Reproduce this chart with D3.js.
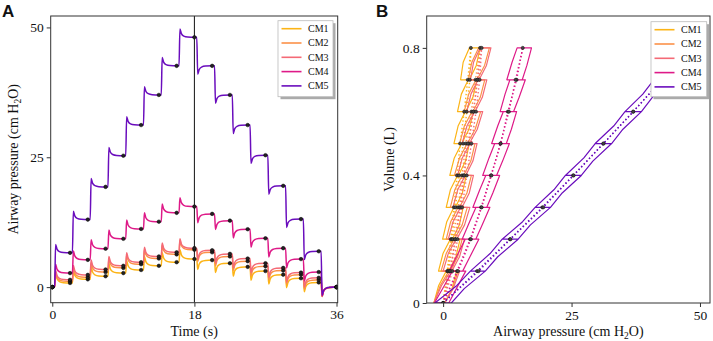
<!DOCTYPE html>
<html>
<head>
<meta charset="utf-8">
<script src="https://cdn.jsdelivr.net/npm/d3@7"></script>
<style>
  body { margin: 0; background: #fff; }
  text { font-family: "Liberation Serif", "DejaVu Serif", serif; fill: #111; }
</style>
</head>
<body>
<svg width="713" height="341"></svg>
<script>
// names and colours of the five compliance models
const series = ["CM1", "CM2", "CM3", "CM4", "CM5"];
const colors = ["#fcb416", "#fb9148", "#f46a76", "#de1a88", "#6a0dbd"];

// volume levels (L) and the time grid of the steps (s)
const volumes = [0, 0.1, 0.2, 0.3, 0.4, 0.5, 0.6, 0.7, 0.8];
const stepTimes = [0, 2.25, 4.5, 6.75, 9, 11.25, 13.5, 15.75, 18,
                   20.25, 22.5, 24.75, 27, 29.25, 31.5, 33.75, 36];

// plateau pressure (cm H2O) at each volume, inflation limb
const cm1Up = [0, 0.8, 1.5, 2.1, 2.7, 3.3, 4.1, 4.8, 5.4];
const cm2Up = [0, 1.1, 1.9, 2.9, 3.7, 4.4, 5.5, 6.3, 7.2];
const cm3Up = [0, 1.4, 2.35, 3.4, 4.1, 4.8, 5.9, 6.7, 7.5];
const cm4Up = [0, 2.7, 5.25, 7.4, 9.3, 11.2, 12.6, 14.3, 15.5];
const cm5Up = [0, 6.6, 13.0, 19.3, 25.3, 31.2, 37.0, 42.6, 48.1];

// plateau pressure at each volume, deflation limb
const cm1Down = [0, 0.9, 1.7, 2.4, 3.1, 3.9, 4.6, 5.2, 5.4];
const cm2Down = [0, 1.4, 2.4, 3.2, 4.0, 5.0, 5.9, 6.7, 7.2];
const cm3Down = [0, 1.8, 2.8, 3.7, 4.6, 5.5, 6.4, 7.1, 7.5];
const cm4Down = [0, 2.9, 5.4, 7.5, 9.4, 11.15, 12.8, 14.1, 15.5];
const cm5Down = [0, 6.9, 13.1, 19.5, 25.4, 31.2, 37.0, 42.6, 48.1];

// flow-related pressure swing: at the start and at the end of each step
const swingStart = [0.3, 0.3, 0.3, 1.1, 1.6];
const swingEnd = [1.8, 1.8, 1.8, 1.7, 1.6];

// tick labels
const ticksTime = [0, 18, 36];
const ticksPaw = [0, 25, 50];
const ticksVol = [0, 0.4, 0.8];

const upP = [cm1Up, cm2Up, cm3Up, cm4Up, cm5Up];
const downP = [cm1Down, cm2Down, cm3Down, cm4Down, cm5Down];

// shape of the transient after each step: [time after step, fraction of swing]
const hold = 0.3;
const transient = [[0.42, 1], [0.6, 0.45], [0.9, 0.15], [1.4, 0.03]];

const svg = d3.select("svg");

function pressureTrace(up, down, r) {
  const pts = [];
  for (let k = 0; k < 8; k++) {
    const t0 = stepTimes[k];
    pts.push([t0, up[k]], [t0 + hold, up[k]]);
    transient.forEach(([dt, f]) => pts.push([t0 + dt, up[k + 1] + f * r]));
  }
  for (let j = 0; j < 8; j++) {
    const t0 = stepTimes[8 + j];
    const from = down[8 - j], to = down[7 - j];
    pts.push([t0, from], [t0 + hold, from]);
    transient.forEach(([dt, f]) => pts.push([t0 + dt, to - f * r]));
  }
  pts.push([stepTimes[16], down[0]]);
  return pts;
}

// pressure-volume path: the swing grows from s0 to s1 during each step
function loopTrace(up, down, s0, s1) {
  const pts = [[up[0], volumes[0]]];
  for (let k = 0; k < 8; k++) {
    const vm = volumes[k] + 0.45 * (volumes[k + 1] - volumes[k]);
    pts.push([up[k] + s0, volumes[k]]);
    pts.push([up[k] + 0.38 * (up[k + 1] - up[k]) + s0 + 0.75 * (s1 - s0), vm]);
    pts.push([up[k + 1] + s1, volumes[k + 1]]);
    pts.push([up[k + 1], volumes[k + 1]]);
  }
  for (let j = 8; j > 0; j--) {
    const vm = volumes[j] - 0.45 * (volumes[j] - volumes[j - 1]);
    pts.push([down[j] - s0, volumes[j]]);
    pts.push([down[j] - 0.38 * (down[j] - down[j - 1]) - s0 - 0.75 * (s1 - s0), vm]);
    pts.push([down[j - 1] - s1, volumes[j - 1]]);
    pts.push([down[j - 1], volumes[j - 1]]);
  }
  return pts;
}

function frame(g, x, y, box, xTicks, yTicks, xLabel, yLabel, yFmt) {
  g.append("g")
    .attr("transform", `translate(0,${box.bottom})`)
    .call(d3.axisBottom(x).tickValues(xTicks).tickSize(4).tickPadding(3))
    .call(a => a.select(".domain").remove())
    .call(a => a.selectAll("text").attr("font-size", 13.5).attr("fill", "#111")
      .style("font-family", "Liberation Serif, serif"));
  g.append("g")
    .attr("transform", `translate(${box.left},0)`)
    .call(d3.axisLeft(y).tickValues(yTicks).tickSize(4).tickPadding(3).tickFormat(yFmt))
    .call(a => a.select(".domain").remove())
    .call(a => a.selectAll("text").attr("font-size", 13.5).attr("fill", "#111")
      .style("font-family", "Liberation Serif, serif"));
  g.selectAll(".tick line").attr("stroke", "#333");
  g.append("text")
    .attr("x", (box.left + box.right) / 2).attr("y", 336)
    .attr("text-anchor", "middle").attr("font-size", 14)
    .html(xLabel);
  g.append("text")
    .attr("transform", `translate(${box.left - 33},${(box.top + box.bottom) / 2}) rotate(-90)`)
    .attr("text-anchor", "middle").attr("font-size", 14)
    .html(yLabel);
}

function border(g, box) {
  g.append("rect")
    .attr("x", box.left).attr("y", box.top)
    .attr("width", box.right - box.left).attr("height", box.bottom - box.top)
    .attr("fill", "none").attr("stroke", "#333").attr("stroke-width", 1);
}

function legend(g, x0, y0, w, h) {
  const lg = g.append("g").attr("transform", `translate(${x0},${y0})`);
  lg.append("rect").attr("x", 2.5).attr("y", 2.5).attr("width", w).attr("height", h)
    .attr("fill", "#aaa");
  lg.append("rect").attr("width", w).attr("height", h)
    .attr("fill", "#fff").attr("stroke", "#bbb").attr("stroke-width", 0.8);
  series.forEach((s, i) => {
    const yy = 8 + i * 14.3;
    lg.append("line").attr("x1", 3.5).attr("x2", 23.5).attr("y1", yy).attr("y2", yy)
      .attr("stroke", colors[i]).attr("stroke-width", 1.6);
    lg.append("text").attr("x", 30).attr("y", yy + 3.5).attr("font-size", 10).text(s);
  });
}

const subLabel = "(cm H<tspan font-size='9.5' dy='3'>2</tspan><tspan dy='-3'>O)</tspan>";

// ---------- panel A: pressure vs time ----------
const boxA = { left: 50.7, right: 337.7, top: 16, bottom: 302.7 };
const xA = d3.scaleLinear().domain([-0.2, 36.15]).range([boxA.left, boxA.right]);
const yA = d3.scaleLinear().domain([-3, 52.2]).range([boxA.bottom, boxA.top]);
const gA = svg.append("g");
gA.append("clipPath").attr("id", "clipA").append("rect")
  .attr("x", boxA.left).attr("y", boxA.top)
  .attr("width", boxA.right - boxA.left).attr("height", boxA.bottom - boxA.top);

const lineA = d3.line().x(d => xA(d[0])).y(d => yA(d[1])).curve(d3.curveMonotoneX);
const plotA = gA.append("g").attr("clip-path", "url(#clipA)");
series.forEach((s, i) => {
  plotA.append("path")
    .attr("d", lineA(pressureTrace(upP[i], downP[i], swingEnd[i])))
    .attr("fill", "none").attr("stroke", colors[i]).attr("stroke-width", 1.5);
});
plotA.append("line")
  .attr("x1", xA(18)).attr("x2", xA(18)).attr("y1", boxA.top).attr("y2", boxA.bottom)
  .attr("stroke", "#111").attr("stroke-width", 1);
series.forEach((s, i) => {
  const dots = [[stepTimes[0], upP[i][0]]];
  for (let k = 1; k <= 8; k++) dots.push([stepTimes[k], upP[i][k]]);
  for (let j = 1; j <= 8; j++) dots.push([stepTimes[8 + j], downP[i][8 - j]]);
  plotA.selectAll(null).data(dots).enter().append("circle")
    .attr("cx", d => xA(d[0])).attr("cy", d => yA(d[1])).attr("r", 1.8)
    .attr("fill", "#222").attr("stroke", "#000").attr("stroke-width", 0.5);
});
border(gA, boxA);
frame(gA, xA, yA, boxA, ticksTime, ticksPaw, "Time (s)", "Airway pressure " + subLabel, d3.format("d"));
legend(gA, 278, 20.7, 55, 76);
gA.append("text").attr("x", 2).attr("y", 17).attr("font-size", 17).attr("font-weight", "bold")
  .style("font-family", "Liberation Sans, Arial, sans-serif").text("A");

// ---------- panel B: volume vs pressure ----------
const boxB = { left: 426.7, right: 710, top: 16, bottom: 303 };
const xB = d3.scaleLinear().domain([-3.2, 51.95]).range([boxB.left, boxB.right]);
const yB = d3.scaleLinear().domain([0, 0.9]).range([boxB.bottom, boxB.top]);
const gB = svg.append("g");
gB.append("clipPath").attr("id", "clipB").append("rect")
  .attr("x", boxB.left).attr("y", boxB.top)
  .attr("width", boxB.right - boxB.left).attr("height", boxB.bottom - boxB.top);

const lineB = d3.line().x(d => xB(d[0])).y(d => yB(d[1]));
const plotB = gB.append("g").attr("clip-path", "url(#clipB)");
series.forEach((s, i) => {
  plotB.append("path")
    .attr("d", lineB(loopTrace(upP[i], downP[i], swingStart[i], swingEnd[i])))
    .attr("fill", "none").attr("stroke", colors[i]).attr("stroke-width", 1.2)
    .attr("stroke-linejoin", "round");
  plotB.append("path")
    .attr("d", lineB(upP[i].map((p, k) => [p, volumes[k]])))
    .attr("fill", "none").attr("stroke", colors[i]).attr("stroke-width", 1.4)
    .attr("stroke-dasharray", "1.4,2.4");
  plotB.append("path")
    .attr("d", lineB(downP[i].map((p, k) => [p, volumes[k]])))
    .attr("fill", "none").attr("stroke", colors[i]).attr("stroke-width", 1.4)
    .attr("stroke-dasharray", "1.4,2.4");
});
series.forEach((s, i) => {
  const dots = upP[i].map((p, k) => [p, volumes[k]])
    .concat(downP[i].slice(1, 8).map((p, k) => [p, volumes[k + 1]]));
  plotB.selectAll(null).data(dots).enter().append("circle")
    .attr("cx", d => xB(d[0])).attr("cy", d => yB(d[1])).attr("r", 1.6)
    .attr("fill", "#444").attr("stroke", "#111").attr("stroke-width", 0.5);
});
border(gB, boxB);
frame(gB, xB, yB, boxB, ticksPaw, ticksVol, "Airway pressure " + subLabel, "Volume (L)", d => d === 0 ? "0" : d3.format(".1f")(d));
legend(gB, 651, 21.7, 55.7, 75);
gB.append("text").attr("x", 376).attr("y", 17).attr("font-size", 17).attr("font-weight", "bold")
  .style("font-family", "Liberation Sans, Arial, sans-serif").text("B");
</script>
</body>
</html>
